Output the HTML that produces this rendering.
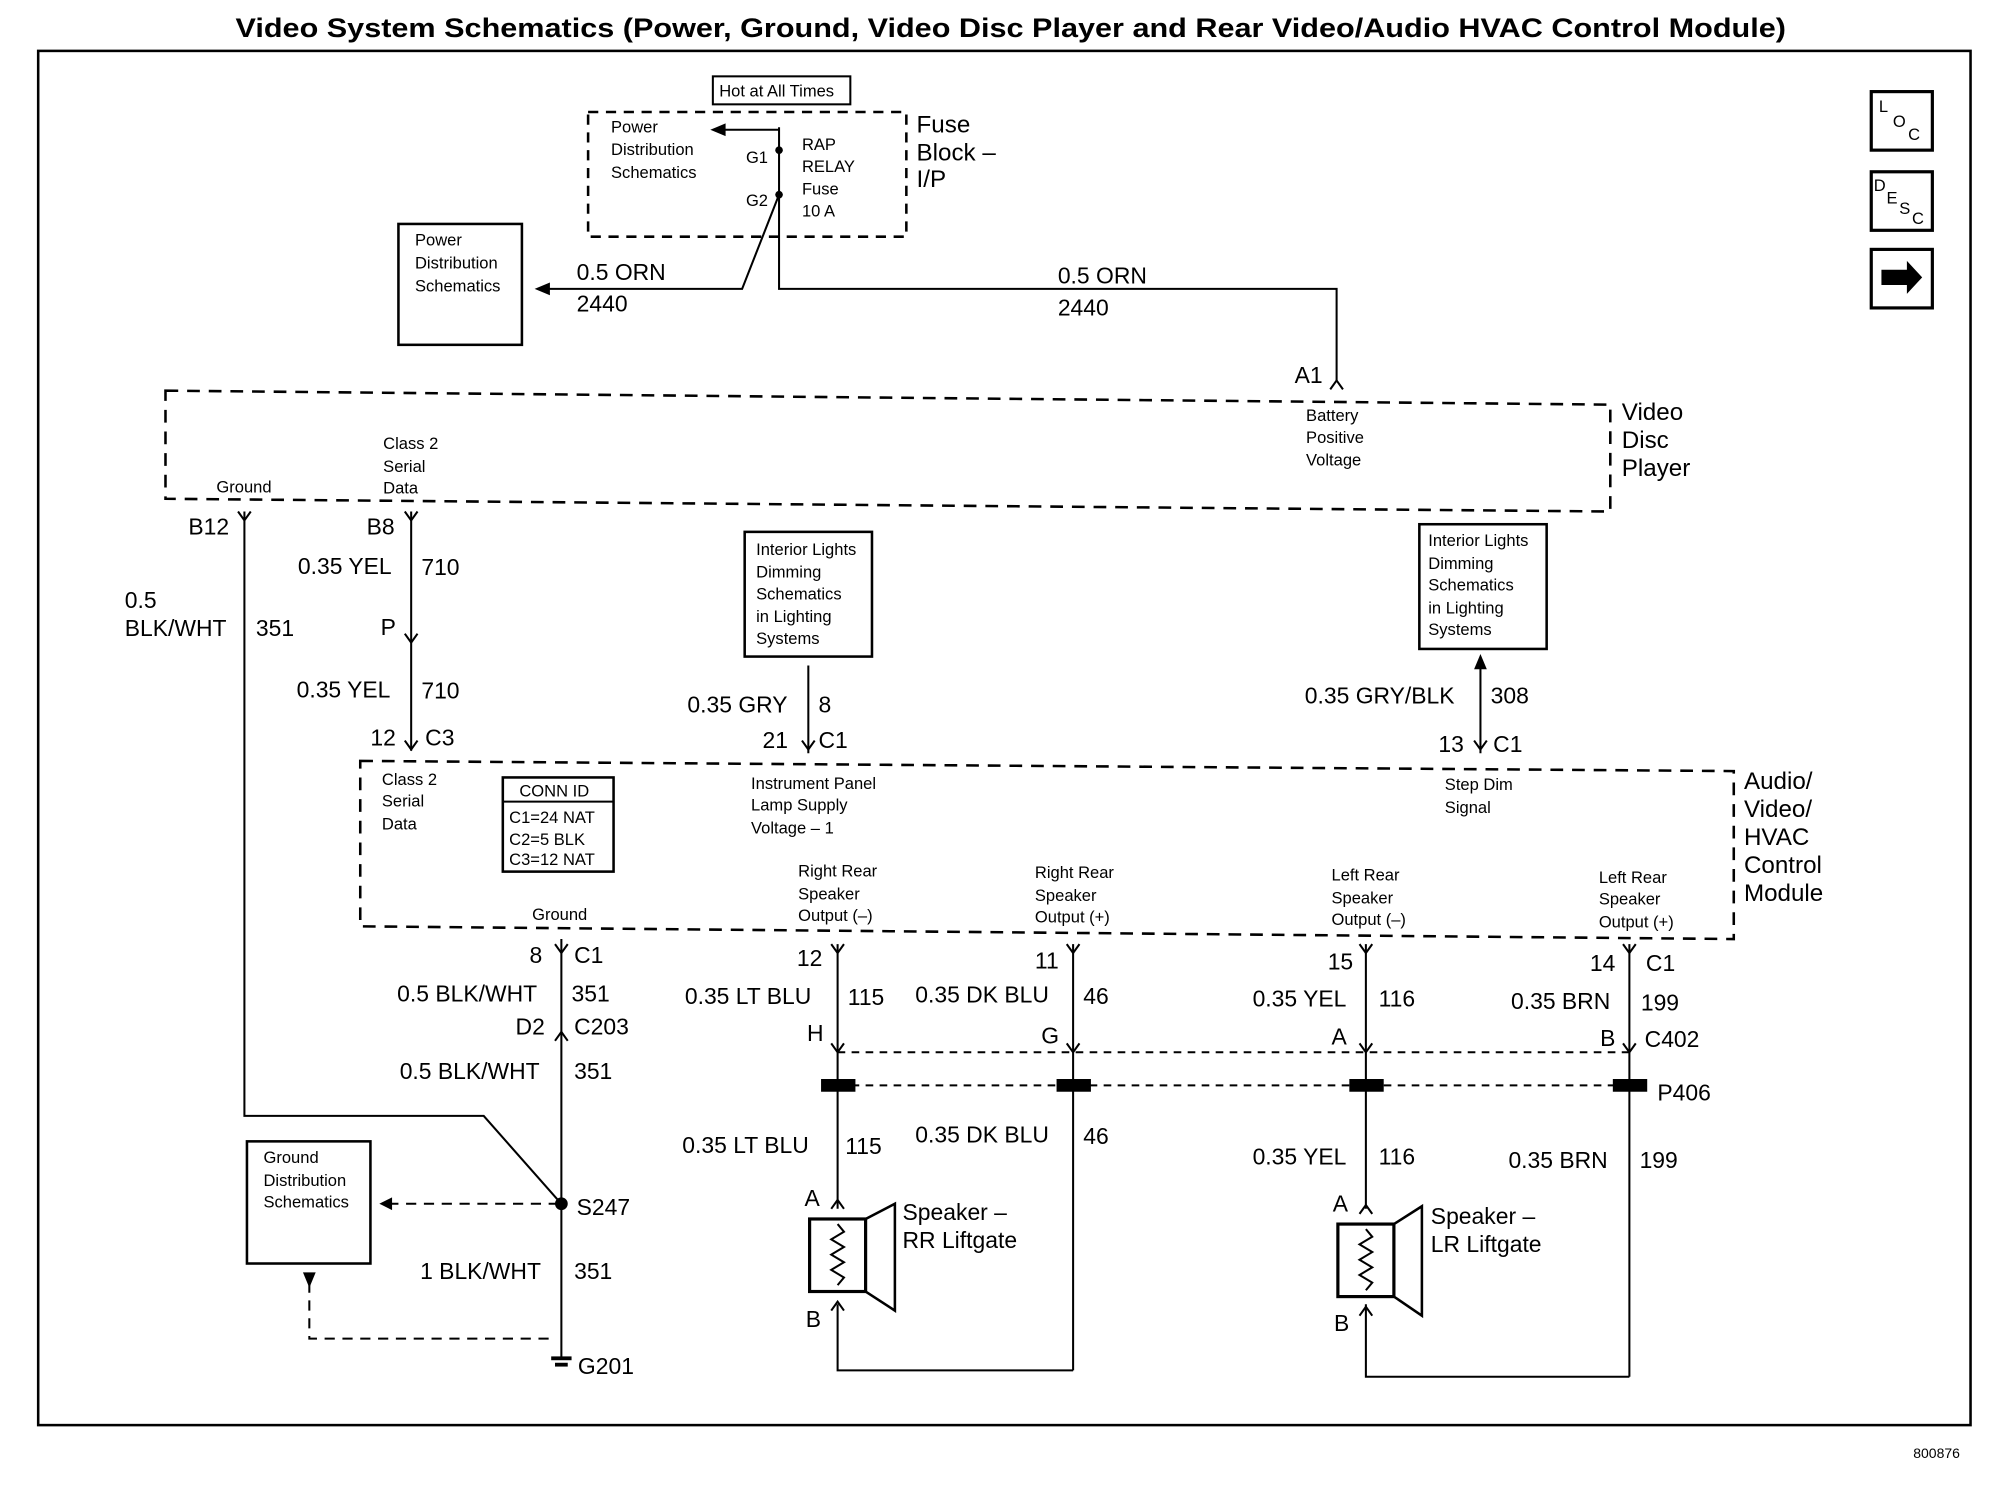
<!DOCTYPE html>
<html><head><meta charset="utf-8"><style>
html,body{margin:0;padding:0;background:#fff;}
svg{display:block}
text{font-family:"Liberation Sans",Arial,sans-serif;fill:#000}
.s{font-size:13px}
.m{font-size:18px}
.l{font-size:19px}
</style></head><body>
<svg width="1996" height="1504" viewBox="0 0 1568 1182" preserveAspectRatio="none" xmlns="http://www.w3.org/2000/svg">
<g stroke="#000" fill="none" stroke-width="1.6">
<rect x="30" y="40" width="1518" height="1080" stroke-width="2"/>
<rect x="1470" y="72" width="48" height="46" stroke-width="2.5"/>
<rect x="1470" y="135" width="48" height="46" stroke-width="2.5"/>
<rect x="1470" y="196" width="48" height="46" stroke-width="2.5"/>
<rect x="560" y="60" width="108" height="22"/>
<rect x="462" y="88" width="250" height="98" stroke-dasharray="8,6" stroke-width="2"/>
<rect x="313" y="176" width="97" height="95" stroke-width="2"/>
<polyline points="612,153 583,227 428,227"/>
<polyline points="612,153 612,227 1050,227 1050,300"/>
<line x1="612" y1="100" x2="612" y2="153"/>
<line x1="612" y1="102" x2="568" y2="102"/>
<path d="M130,307 L1265,318 L1265,402 L130,392 Z" stroke-dasharray="10,7" stroke-width="2"/>
<polyline points="192,402 192,877 380,877 440,945"/>
<line x1="323" y1="402" x2="323" y2="590"/>
<rect x="585" y="418" width="100" height="98" stroke-width="2"/>
<rect x="1115" y="412" width="100" height="98" stroke-width="2"/>
<line x1="635" y1="523" x2="635" y2="592"/>
<line x1="1163" y1="522" x2="1163" y2="592"/>
<path d="M283,598 L1362,606 L1362,738 L283,728 Z" stroke-dasharray="10,7" stroke-width="2"/>
<rect x="395" y="611" width="87" height="74" stroke-width="2"/>
<line x1="395" y1="630" x2="482" y2="630"/>
<line x1="441" y1="738" x2="441" y2="1068"/>
<rect x="194" y="897" width="97" height="96" stroke-width="2"/>
<line x1="305" y1="946" x2="441" y2="946" stroke-dasharray="8,6"/>
<polyline points="243,1008 243,1052 436,1052" stroke-dasharray="8,6"/>
<line x1="658" y1="742" x2="658" y2="950"/>
<line x1="843" y1="742" x2="843" y2="1077"/>
<line x1="1073" y1="742" x2="1073" y2="950"/>
<line x1="1280" y1="742" x2="1280" y2="1082"/>
<line x1="658" y1="827" x2="1280" y2="827" stroke-dasharray="6,5"/>
<line x1="658" y1="853" x2="1280" y2="853" stroke-dasharray="6,5"/>
<polyline points="658,1025 658,1077 843,1077"/>
<polyline points="1073,1025 1073,1082 1280,1082"/>
<rect x="636" y="958" width="44" height="57" stroke-width="2.5"/>
<polygon points="680,958 703,946 703,1030 680,1015" stroke-width="2"/>
<rect x="1051" y="962" width="44" height="57" stroke-width="2.5"/>
<polygon points="1095,962 1117,948 1117,1034 1095,1019" stroke-width="2"/>
<path d="M658,962 l5,6 -10,6 10,6 -10,6 10,6 -10,6 10,6 -5,6"/>
<path d="M1073,966 l5,6 -10,6 10,6 -10,6 10,6 -10,6 10,6 -5,6"/>
<!-- connector chevrons (female, opening up/down) -->
<path d="M187,402 l5,7 5,-7 M318,402 l5,7 5,-7 M318,498 l5,7 5,-7 M318,582 l5,7 5,-7 M630,582 l5,7 5,-7 M1158,582 l5,7 5,-7"/>
<path d="M1045,306 l5,-7 5,7 M436,818 l5,-7 5,7"/>
<path d="M436,742 l5,7 5,-7 M653,742 l5,7 5,-7 M838,742 l5,7 5,-7 M1068,742 l5,7 5,-7 M1275,742 l5,7 5,-7"/>
<path d="M653,820 l5,7 5,-7 M838,820 l5,7 5,-7 M1068,820 l5,7 5,-7 M1275,820 l5,7 5,-7"/>
<path d="M653,950 l5,-7 5,7 M653,1030 l5,-7 5,7 M1068,954 l5,-7 5,7 M1068,1034 l5,-7 5,7"/>
</g>
<g fill="#000">
<polygon points="420,227 432,222 432,232"/>
<polygon points="558,102 570,97 570,107"/>
<polygon points="1163,514 1158,526 1168,526"/>
<polygon points="298,946 308,941 308,951"/>
<polygon points="243,1012 238,1000 248,1000"/>
<circle cx="612" cy="153" r="3"/><circle cx="612" cy="118" r="3"/>
<circle cx="441" cy="946" r="5"/>
<rect x="645" y="848" width="27" height="10"/><rect x="830" y="848" width="27" height="10"/>
<rect x="1060" y="848" width="27" height="10"/><rect x="1267" y="848" width="27" height="10"/>
<rect x="433" y="1066" width="16" height="3"/><rect x="436" y="1071" width="10" height="3"/>
<polygon points="1478,212 1498,212 1498,205 1510,218 1498,231 1498,224 1478,224"/>
</g>
<text x="185" y="29" font-size="21" font-weight="bold" textLength="1218" lengthAdjust="spacingAndGlyphs">Video System Schematics (Power, Ground, Video Disc Player and Rear Video/Audio HVAC Control Module)</text>
<text x="1476" y="88" font-size="13">L</text><text x="1487" y="100" font-size="13">O</text><text x="1499" y="110" font-size="13">C</text>
<text x="1472" y="150" font-size="13">D</text><text x="1482" y="160" font-size="13">E</text><text x="1492" y="168" font-size="13">S</text><text x="1502" y="176" font-size="13">C</text>
<text x="565" y="76" class="s">Hot at All Times</text>
<text x="480" y="104" class="s">Power</text><text x="480" y="122" class="s">Distribution</text><text x="480" y="140" class="s">Schematics</text>
<text x="586" y="128" class="s">G1</text><text x="586" y="162" class="s">G2</text>
<text x="630" y="118" class="s">RAP</text><text x="630" y="135" class="s">RELAY</text><text x="630" y="153" class="s">Fuse</text><text x="630" y="170" class="s">10 A</text>
<text x="720" y="104" class="l">Fuse</text><text x="720" y="126" class="l">Block –</text><text x="720" y="147" class="l">I/P</text>
<text x="326" y="193" class="s">Power</text><text x="326" y="211" class="s">Distribution</text><text x="326" y="229" class="s">Schematics</text>
<text x="453" y="220" class="m">0.5 ORN</text><text x="453" y="245" class="m">2440</text>
<text x="831" y="223" class="m">0.5 ORN</text><text x="831" y="248" class="m">2440</text>
<text x="1017" y="301" class="m">A1</text>
<text x="1026" y="331" class="s">Battery</text><text x="1026" y="348" class="s">Positive</text><text x="1026" y="366" class="s">Voltage</text>
<text x="1274" y="330" class="l">Video</text><text x="1274" y="352" class="l">Disc</text><text x="1274" y="374" class="l">Player</text>
<text x="170" y="387" class="s">Ground</text>
<text x="301" y="353" class="s">Class 2</text><text x="301" y="371" class="s">Serial</text><text x="301" y="388" class="s">Data</text>
<text x="148" y="420" class="m">B12</text><text x="288" y="420" class="m">B8</text>
<text x="98" y="478" class="m">0.5</text><text x="98" y="500" class="m">BLK/WHT</text><text x="201" y="500" class="m">351</text>
<text x="234" y="451" class="m">0.35 YEL</text><text x="331" y="452" class="m">710</text>
<text x="299" y="499" class="m">P</text>
<text x="233" y="548" class="m">0.35 YEL</text><text x="331" y="549" class="m">710</text>
<text x="291" y="586" class="m">12</text><text x="334" y="586" class="m">C3</text>
<text x="594" y="436" class="s">Interior Lights</text><text x="594" y="454" class="s">Dimming</text><text x="594" y="471" class="s">Schematics</text><text x="594" y="489" class="s">in Lighting</text><text x="594" y="506" class="s">Systems</text>
<text x="1122" y="429" class="s">Interior Lights</text><text x="1122" y="447" class="s">Dimming</text><text x="1122" y="464" class="s">Schematics</text><text x="1122" y="482" class="s">in Lighting</text><text x="1122" y="499" class="s">Systems</text>
<text x="540" y="560" class="m">0.35 GRY</text><text x="643" y="560" class="m">8</text>
<text x="599" y="588" class="m">21</text><text x="643" y="588" class="m">C1</text>
<text x="1025" y="553" class="m">0.35 GRY/BLK</text><text x="1171" y="553" class="m">308</text>
<text x="1130" y="591" class="m">13</text><text x="1173" y="591" class="m">C1</text>
<text x="300" y="617" class="s">Class 2</text><text x="300" y="634" class="s">Serial</text><text x="300" y="652" class="s">Data</text>
<text x="408" y="626" class="s">CONN ID</text><text x="400" y="647" class="s">C1=24 NAT</text><text x="400" y="664" class="s">C2=5 BLK</text><text x="400" y="680" class="s">C3=12 NAT</text>
<text x="590" y="620" class="s">Instrument Panel</text><text x="590" y="637" class="s">Lamp Supply</text><text x="590" y="655" class="s">Voltage – 1</text>
<text x="1135" y="621" class="s">Step Dim</text><text x="1135" y="639" class="s">Signal</text>
<text x="1370" y="620" class="l">Audio/</text><text x="1370" y="642" class="l">Video/</text><text x="1370" y="664" class="l">HVAC</text><text x="1370" y="686" class="l">Control</text><text x="1370" y="708" class="l">Module</text>
<text x="418" y="723" class="s">Ground</text>
<text x="627" y="689" class="s">Right Rear</text><text x="627" y="707" class="s">Speaker</text><text x="627" y="724" class="s">Output (–)</text>
<text x="813" y="690" class="s">Right Rear</text><text x="813" y="708" class="s">Speaker</text><text x="813" y="725" class="s">Output (+)</text>
<text x="1046" y="692" class="s">Left Rear</text><text x="1046" y="710" class="s">Speaker</text><text x="1046" y="727" class="s">Output (–)</text>
<text x="1256" y="694" class="s">Left Rear</text><text x="1256" y="711" class="s">Speaker</text><text x="1256" y="729" class="s">Output (+)</text>
<text x="416" y="757" class="m">8</text><text x="451" y="757" class="m">C1</text>
<text x="312" y="787" class="m">0.5 BLK/WHT</text><text x="449" y="787" class="m">351</text>
<text x="405" y="813" class="m">D2</text><text x="451" y="813" class="m">C203</text>
<text x="314" y="848" class="m">0.5 BLK/WHT</text><text x="451" y="848" class="m">351</text>
<text x="626" y="759" class="m">12</text><text x="813" y="761" class="m">11</text><text x="1043" y="762" class="m">15</text><text x="1249" y="763" class="m">14</text><text x="1293" y="763" class="m">C1</text>
<text x="538" y="789" class="m">0.35 LT BLU</text><text x="666" y="790" class="m">115</text>
<text x="719" y="788" class="m">0.35 DK BLU</text><text x="851" y="789" class="m">46</text>
<text x="984" y="791" class="m">0.35 YEL</text><text x="1083" y="791" class="m">116</text>
<text x="1187" y="793" class="m">0.35 BRN</text><text x="1289" y="794" class="m">199</text>
<text x="634" y="818" class="m">H</text><text x="818" y="820" class="m">G</text><text x="1046" y="821" class="m">A</text><text x="1257" y="822" class="m">B</text><text x="1292" y="823" class="m">C402</text>
<text x="1302" y="865" class="m">P406</text>
<text x="536" y="906" class="m">0.35 LT BLU</text><text x="664" y="907" class="m">115</text>
<text x="719" y="898" class="m">0.35 DK BLU</text><text x="851" y="899" class="m">46</text>
<text x="984" y="915" class="m">0.35 YEL</text><text x="1083" y="915" class="m">116</text>
<text x="1185" y="918" class="m">0.35 BRN</text><text x="1288" y="918" class="m">199</text>
<text x="207" y="914" class="s">Ground</text><text x="207" y="932" class="s">Distribution</text><text x="207" y="949" class="s">Schematics</text>
<text x="453" y="955" class="m">S247</text>
<text x="330" y="1005" class="m">1 BLK/WHT</text><text x="451" y="1005" class="m">351</text>
<text x="454" y="1080" class="m">G201</text>
<text x="632" y="948" class="m">A</text><text x="633" y="1043" class="m">B</text>
<text x="709" y="959" class="m">Speaker –</text><text x="709" y="981" class="m">RR Liftgate</text>
<text x="1047" y="952" class="m">A</text><text x="1048" y="1046" class="m">B</text>
<text x="1124" y="962" class="m">Speaker –</text><text x="1124" y="984" class="m">LR Liftgate</text>
<text x="1503" y="1146" font-size="11">800876</text>
</svg>
</body></html>
